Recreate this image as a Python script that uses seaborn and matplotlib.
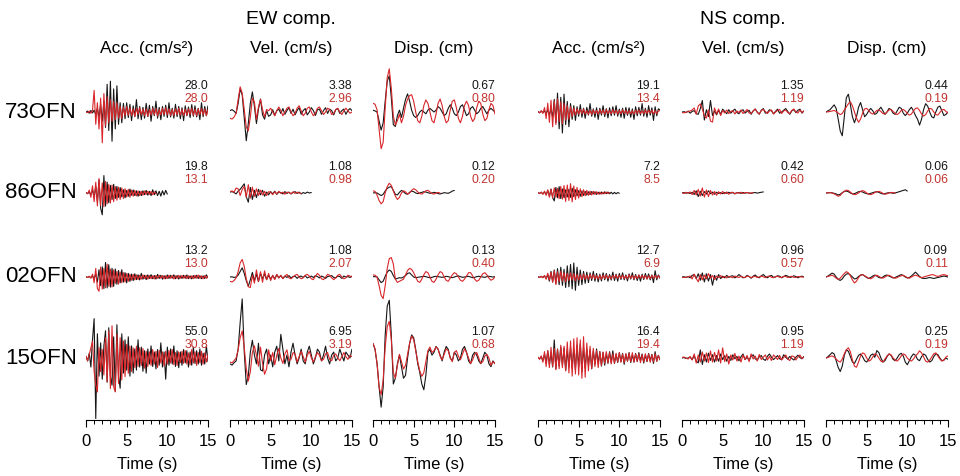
import numpy as np
import pandas as pd
import matplotlib
matplotlib.use("Agg")
import matplotlib.pyplot as plt
from matplotlib.ticker import MultipleLocator
import seaborn as sns

# ---------------------------------------------------------------- labels
STATIONS = ["73OFN", "86OFN", "02OFN", "15OFN"]
COMPONENTS = ["EW", "NS"]
COMP_TITLES = ["EW comp.", "NS comp."]
QUANTITIES = ["ACC", "VEL", "DISP"]
QUANTITY_TITLES = ["Acc. (cm/s²)", "Vel. (cm/s)", "Disp. (cm)"]
TIME_TICKS = [0, 5, 10, 15]

# ---------------------------------------------------------------- peak values (observed / simulated), per station
EW_ACC_OBS_PEAK = [28.0, 19.8, 13.2, 55.0]
EW_ACC_SIM_PEAK = [28.0, 13.1, 13.0, 30.8]
EW_VEL_OBS_PEAK = [3.38, 1.08, 1.08, 6.95]
EW_VEL_SIM_PEAK = [2.96, 0.98, 2.07, 3.19]
EW_DISP_OBS_PEAK = [0.67, 0.12, 0.13, 1.07]
EW_DISP_SIM_PEAK = [0.80, 0.20, 0.40, 0.68]
NS_ACC_OBS_PEAK = [19.1, 7.2, 12.7, 16.4]
NS_ACC_SIM_PEAK = [13.4, 8.5, 6.9, 19.4]
NS_VEL_OBS_PEAK = [1.35, 0.42, 0.96, 0.95]
NS_VEL_SIM_PEAK = [1.19, 0.60, 0.57, 1.19]
NS_DISP_OBS_PEAK = [0.44, 0.06, 0.09, 0.25]
NS_DISP_SIM_PEAK = [0.19, 0.06, 0.11, 0.19]

# ---------------------------------------------------------------- waveform shapes
# relative amplitudes (largest |value| maps to the peak above)
DT = {"ACC": 0.2, "VEL": 0.25, "DISP": 0.25}

W73_EW_ACC_OBS = [0, 3, -4, 5, -3, 6, -8, 12, -18, 25, -30, 35, -50, 90, -60, 100, -95, 75, -55, 85, -40,
                  30, -35, 28, -22, 30, -18, 25, -28, 20, -15, 40, -22, 18, -25, 15, -20, 28, -15, 22, -30,
                  18, -12, 35, -20, 15, -25, 18, -14, 22, -18, 30, -16, 12, -20, 25, -15, 18, -22, 14, -28,
                  20, -12, 16, -18, 24, -14, 20, -16, 12, -25, 30, -15, 18, -12, 20]
W73_EW_ACC_SIM = [0, -2, 3, -4, 5, 70, -40, 30, -55, 45, -100, 60, -45, 50, -35, 40, -30, 35, -25, 30, -20,
                  18, -22, 15, -12, 18, -10, 14, -12, 10, -15, 12, -8, 14, -10, 9, -12, 10, -14, 8, -10,
                  12, -9, 11, -13, 8, -10, 12, -8, 14, -9, 10, -12, 8, -11, 10, -9, 12, -10, 8, -12,
                  9, -11, 10, -8, 12, -10, 9, -12, 10, -8, 11, -9, 10, -12, 8]
W73_EW_VEL_OBS = [5, 8, 3, -5, 30, 80, 60, -20, -100, -40, 30, 70, 20, -40, 10, 45, -10, -25, 5, -15, -10,
                  8, -12, 5, 10, -5, 12, -8, 5, 15, -5, 10, -10, 5, 15, -8, 5, 12, -10, 0, 15,
                  5, -12, 8, 10, -8, 5, 15, -5, 10, 5, -10, 8, 12, -5, 5, 10, -8, 5, 12, 5]
W73_EW_VEL_SIM = [-25, -28, -20, -5, 50, 100, 75, 10, -60, -75, -20, 55, 40, -30, 20, 50, 10, -20, 10, 5, 15,
                  0, -15, 5, 20, 5, -15, 0, 15, 20, 0, -15, -5, 15, 25, 5, -15, -5, 15, 20, 0,
                  -15, -5, 15, 20, 5, -10, 0, 15, 10, -10, -5, 10, 15, 0, -10, 5, 15, 5, -5, 0]
W73_EW_DISP_OBS = [5, 3, 0, -25, -50, -30, 30, 85, 100, 40, -35, -40, -10, 5, -15, 10, 35, 50, 30, 5, -10,
                   -15, -10, 0, 5, 0, -5, 5, 10, 5, 0, 5, 15, 10, 0, -10, -5, 10, 20, 10, -5,
                   -10, 0, 15, 20, 5, -10, -5, 10, 15, 5, -5, 0, 10, 15, 5, -5, 5, 10, 5, 0]
W73_EW_DISP_SIM = [20, 18, 5, -40, -85, -70, 10, 80, 100, 55, -10, -30, -20, -5, -25, -10, 15, 30, 38, 40, 25,
                   0, -20, -25, -10, 15, 28, 20, 0, -20, -25, -5, 20, 30, 15, -10, -25, -20, 5, 25, 28,
                   10, -15, -25, -10, 15, 25, 15, -10, -22, -15, 10, 25, 20, -5, -20, -15, 5, 20, 15, -5]
W73_NS_ACC_OBS = [2, -4, 5, -3, 6, -8, 10, -12, 15, -25, 60, -50, 90, -80, 70, -100, 85, -60, 50, -70,
                  40, -35, 30, -40, 25, -20, 35, -25, 18, -30, 22, -15, 40, -20, 15, -25, 20, -35, 18, -15,
                  30, -22, 16, -28, 20, -18, 25, -15, 30, -20, 14, -25, 18, -30, 22, -16, 20, -25, 15, -35,
                  25, -18, 22, -15, 40, -20, 18, -25, 30, -15, 20, -40, 25, -18, 15, 10]
W73_NS_ACC_SIM = [3, -5, 8, -10, 30, -45, 60, -70, 80, -100, 75, -85, 90, -65, 70, -80, 60, -55, 45, -50,
                  35, -30, 25, -20, 22, -15, 18, -12, 20, -14, 10, -16, 12, -18, 15, -12, 10, -14, 16, -10,
                  12, -15, 18, -11, 9, -13, 16, -10, 12, -14, 10, -12, 15, -9, 11, -14, 10, -12, 8, -15,
                  12, -10, 14, -11, 9, -12, 15, -10, 13, -8, 12, -14, 10, -12, 9, 8]
W73_NS_VEL_OBS = [0, 3, -5, 8, -10, 5, 12, -15, -20, 30, 100, -70, 20, -40, 100, -30, 10, -25, 15, -20, 25,
                  5, -15, 20, -10, 10, 25, -5, -15, 10, 20, -10, 5, 15, -20, 10, 25, 0, -20, 15,
                  30, -10, -5, 20, 10, -15, 5, 25, -10, 0, 15, 30, 5, -20, 10, 20, -5, 15, 25, -10, 10]
W73_NS_VEL_SIM = [-5, -8, -3, 5, 10, 20, 40, -20, 60, 80, 30, -40, -60, 20, -90, -100, 40, -20, 30, -35, 15,
                  -10, 20, -15, 5, 15, -20, 10, -5, 20, -15, 5, 25, -10, -15, 10, 30, -5, -20, 15,
                  25, 5, -15, 10, 20, -20, 0, 15, 25, -15, 10, 20, -5, -15, 15, 30, 0, -10, 20, -5, 10]
W73_NS_DISP_OBS = [0, 5, 10, 20, 30, 15, -30, -80, -100, -20, 60, 75, 30, -20, -45, -20, 20, 40, 10, -20, -10,
                   5, 15, 5, -10, -5, 10, 20, 5, -10, 0, 15, 10, -5, -10, 5, 20, 15, -5, -15, -5,
                   10, 20, 5, -15, -30, -55, -30, 10, 35, 25, 0, -20, -25, 0, 20, 25, 5, -15, -10, 0]
W73_NS_DISP_SIM = [0, 2, 5, 10, 15, 5, -10, -25, -15, 20, 50, 80, 100, 60, 0, -60, -100, -70, -10, 30, 35,
                   15, -10, -20, -5, 15, 20, 5, -15, -20, 0, 20, 25, 5, -15, -25, -10, 15, 25, 10,
                   -15, -30, -20, 10, 35, 40, 15, -20, -40, -25, 10, 35, 30, 0, -25, -30, -5, 20, 25, 5, -10]

W86_EW_ACC_OBS = [2, -3, 5, -8, 15, -20, 30, -40, 60, -70, -100, 80, -60, 50, -45, 35, -30, 40, -25, 30,
                  -20, 25, -18, 15, -22, 12, -15, 18, -10, 14, -12, 10, -15, 8, -12, 10, -8, 12, -10, 8,
                  -12, 15, -8, 10, -12, 8, -14, 10, -9, 12, -5]
W86_EW_ACC_SIM = [3, -5, 20, -30, 50, -60, 75, -90, 100, -85, 70, -95, 80, -75, 60, -70, 55, -60, 45, -50,
                  40, -45, 35, -38, 30, -28, 25, -30, 20, -22, 18, -20, 15, -18, 12, -15, 14, -10, 12, -9,
                  10, -12, 8, -6]
W86_EW_VEL_OBS = [10, 15, 5, -10, 20, 40, 70, 100, -40, -100, 60, -70, 30, -50, 40, -20, 30, -35, 10, -20, 15,
                  -10, 20, -15, 10, 5, -10, 15, -5, 10, -10, 5, 15, -5, 10, -10, 5, -5, 10, 0, 5]
W86_EW_VEL_SIM = [15, 25, 10, 60, 50, -30, 40, 80, -50, 100, -60, 70, -40, 50, -30, 35, -25, 20, -30, 15, 10,
                  -20, 15, -10, 20, -5, 10, -15, 10, 5, -10, 15, -5, 10, 0, -5]
W86_EW_DISP_OBS = [0, 5, 0, -20, -40, -20, 30, 70, 90, 100, 40, -20, -30, 10, 40, 20, -10, -20, 10, 30, 20,
                   0, -10, 0, 10, 20, 15, 5, -5, 0, 10, 5, -10, -15, -5, 5, 0, -5, 10, 30, 40]
W86_EW_DISP_SIM = [20, 15, -20, -70, -100, -80, 0, 60, 90, 70, 20, -30, -60, -40, 0, 20, 10, -10, 0, 25, 40,
                   30, 10, -5, -10, 5, 20, 25, 10, -5, -10, 0, 5, 0]
W86_NS_ACC_OBS = [3, -5, 8, -10, 12, -20, 30, -40, 50, -60, -100, 70, -60, 80, -70, 50, -60, 40, -50, 45,
                  -55, 60, -45, 40, -35, 30, -40, 25, -30, 20, -25, 15, -20, 18, -12, 15, -18, 10, -14, 12,
                  -10, 15, -8, 12, -10, 9, -12, 8, -10, 6, -4]
W86_NS_ACC_SIM = [4, -6, 10, -15, 20, -25, 35, -45, 40, -50, 55, -45, 50, -60, 70, -65, 80, -90, 85, -80,
                  100, -95, 75, -70, 60, -55, 45, -40, 35, -30, 28, -25, 20, -22, 18, -15, 14, -12, 10, -12,
                  9, -8, 10, -6, 4]
W86_NS_VEL_OBS = [5, 10, -5, 10, -15, 20, -40, 60, -100, 50, -70, 40, -30, 60, -20, 25, -35, 20, -15, 10, -20,
                  15, -10, 20, -5, 10, -15, 5, 10, -10, 15, -5, 10, 0, -10, 5, 15, -5, 10, 20, 30]
W86_NS_VEL_SIM = [5, -10, 15, -5, 20, -30, 50, -40, 70, -60, 100, -80, 60, -70, 50, -40, 30, -45, 25, -20, 30,
                  -15, 20, -25, 10, 15, -20, 10, -5, 15, -10, 5, 10, -5, 0, 5]
W86_NS_DISP_OBS = [0, 5, 10, 5, -10, -30, -60, -40, 10, 50, 60, 40, 0, -30, -20, 10, 40, 50, 30, 0, -20,
                   -30, -10, 10, 30, 40, 20, -10, -30, -20, 0, 10, 5, -10, 0, 20, 40, 60, 80, 100, 60]
W86_NS_DISP_SIM = [0, 5, 10, 0, -20, -50, -80, -60, 0, 40, 70, 60, 20, -20, -40, -30, 0, 40, 60, 40, 0,
                   -30, -40, -20, 10, 30, 40, 20, -10, -30, -20, 0, 15, 10, 0]

W02_EW_ACC_OBS = [2, -3, 4, -5, 6, -10, 20, -35, 50, -60, 70, -80, 100, -75, 85, -70, 60, -65, 55, -50,
                  45, -40, 50, -35, 30, -40, 25, -30, 20, -25, 22, -18, 15, -20, 25, -15, 12, -18, 14, -10,
                  16, -12, 10, -14, 18, -10, 12, -15, 9, -12, 14, -10, 12, -8, 15, -12, 10, -14, 8, -10,
                  12, -9, 14, -11, 8, -13, 10, -8, 12, -10, 9, -12, 8, -10, 15, -6]
W02_EW_ACC_SIM = [3, -4, 5, -8, 20, -40, 60, -80, -100, 70, -85, 60, -75, 90, -65, 55, -70, 50, -45, 40,
                  -50, 35, -40, 30, -35, 25, -30, 20, -22, 18, -20, 15, -18, 12, -15, 14, -10, 12, -15, 10,
                  -12, 9, -14, 11, -10, 12, -8, 10, -13, 9, -11, 12, -9, 10, -14, 8, -10, 12, -9, 11,
                  -8, 10, -12, 9, -10, 8, -11, 12, -9, 14, -10, 8, -12, 10, -9, 7]
W02_EW_VEL_OBS = [0, 2, -5, 0, 20, 60, 100, 40, -40, -100, -30, 50, -40, 30, -50, 40, -20, 35, -30, 20, -25,
                  15, -20, 25, -10, 15, -15, 10, -5, 15, -10, 5, 10, -15, 5, 10, -5, 15, -10, 0,
                  10, -5, 15, 5, -10, 10, 0, -15, 5, 10, 15, -5, -10, 10, 5, -15, 10, 0, 5, -5, 10]
W02_EW_VEL_SIM = [-25, -28, -20, -5, 30, 80, 100, 60, -10, -55, -60, 10, -35, 40, -25, 30, -30, 35, -15, 20, -20,
                  10, -15, 15, -5, 10, -10, 5, 15, -5, -10, 0, 10, 15, 0, -10, -5, 10, 15, 5,
                  -10, -15, 5, 20, 10, -10, -15, 0, 15, 10, -5, -15, -5, 10, 15, 0, -10, -5, 10, 5, 0]
W02_EW_DISP_OBS = [5, 5, 0, -40, -80, -60, 10, 70, 100, 80, 20, -30, -20, -10, -15, 0, 20, 50, 60, 30, 0,
                   -10, -5, 0, 5, 10, 5, -5, -10, -5, 5, 10, 5, 0, -5, 0, 10, 5, -5, -10,
                   0, 10, 15, 5, -5, 0, 5, 10, 0, -10, -5, 5, 10, 5, 0, -5, 5, 10, 5, 0, 5]
W02_EW_DISP_SIM = [10, 8, 0, -40, -85, -100, -40, 40, 85, 90, 60, -10, -25, -20, -15, -10, 10, 30, 40, 35, 20,
                   0, -20, -25, -10, 10, 25, 20, 0, -20, -25, -10, 10, 25, 20, 0, -15, -20, -5, 10,
                   20, 15, 0, -15, -20, -10, 5, 20, 20, 5, -10, -20, -15, 0, 15, 20, 10, -5, -15, -10, 0]
W02_NS_ACC_OBS = [2, -3, 5, -4, 8, -10, 15, -30, 40, -35, 50, -45, 60, -55, 70, -60, 55, -75, 80, -70,
                  90, -85, 100, -95, 70, -60, 50, -55, 40, -45, 35, -40, 30, -25, 40, -30, 25, -35, 20, -28,
                  30, -20, 25, -30, 18, -22, 35, -25, 20, -30, 25, -18, 30, -20, 15, -28, 22, -15, 30, -20,
                  18, -25, 15, -30, 20, -18, 25, -15, 22, -20, 15, -40, 45, -20, 15, -10]
W02_NS_ACC_SIM = [3, -5, 8, -10, 20, -30, 50, -40, 60, -70, 80, -100, 70, -60, 75, -55, 60, -65, 50, -45,
                  55, -40, 45, -50, 35, -40, 30, -35, 40, -30, 25, -30, 35, -20, 30, -25, 20, -28, 22, -30,
                  25, -20, 30, -22, 18, -25, 20, -15, 28, -20, 22, -18, 25, -20, 15, -22, 30, -18, 20, -25,
                  18, -20, 25, -15, 22, -18, 20, -25, 15, -20, 22, -18, 20, -15, 18, -10]
W02_NS_VEL_OBS = [0, 3, -5, 5, -10, 20, 30, -20, 40, -40, 50, -60, 40, -50, 30, -100, 20, -40, 30, -20, 10,
                  -10, 20, -5, 10, 15, -10, 5, 30, 10, -10, -5, 20, 5, -15, 10, 25, 0, -10, 15,
                  30, 5, -10, 10, 20, -5, 0, 15, 10, -10, 5, 20, 10, -5, 0, 15, 5, -10, 5, 10, 0]
W02_NS_VEL_SIM = [-5, -10, -5, 5, 20, -40, 60, -30, -100, 50, -60, 40, -40, 70, -20, 30, -50, 20, -10, 30, -15,
                  10, -20, 15, 0, -15, 20, 5, -10, 15, -5, -10, 20, 10, -15, 5, 15, -10, 0, 20,
                  5, -15, 10, 20, -5, -15, 10, 15, -5, -10, 15, 10, -10, 5, 15, -5, -10, 10, 5, 0, 0]
W02_NS_DISP_OBS = [0, 20, 50, 80, 60, 0, -50, -70, -40, 20, 60, 70, 40, 0, -40, -30, 10, 40, 50, 20, -10,
                   -30, -10, 20, 40, 20, -10, -20, 0, 30, 40, 20, 0, -20, -10, 10, 30, 50, 30, 0,
                   -20, -10, 20, 60, 100, 60, 10, -20, -30, -30, -20, -10, -20, -30, -20, -10, 0, 10, 20, 10, 0]
W02_NS_DISP_SIM = [0, 10, 20, 30, 10, -20, -40, -20, 20, 60, 90, 70, 20, -50, -100, -70, -10, 30, 40, 20, 0,
                   -20, -30, -10, 20, 30, 10, -10, -20, 0, 20, 30, 10, -10, -20, -10, 10, 20, 30, 10,
                   -10, -20, 0, 20, 30, 20, 0, -10, 0, 10, 20, 30, 40, 35, 20, 10, 20, 35, 40, 30, 20]

W15_EW_ACC_OBS = [3, -5, 8, -15, 30, 65, -100, 40, -30, 25, -35, 20, 45, -40, 50, -30, -45, 35, -55, 55,
                  -30, -50, 40, -25, 30, -20, 35, -30, 20, -25, 15, -20, 30, -15, 18, -22, 12, -25, 15, -10,
                  20, -14, 10, -18, 14, -12, 25, -15, 10, -35, 18, -12, 15, -10, 20, -14, 12, -16, 10, -12,
                  14, -8, 12, -15, 10, -12, 18, -9, 12, -10, 15, -12, 8, -10, 20, -6]
W15_EW_ACC_SIM = [5, -8, 10, 30, 50, -40, -80, -100, 30, -40, 25, -50, 60, -70, 80, -90, 95, -85, -100, 70,
                  -75, 60, -65, 50, -55, 40, -45, 35, -40, 30, -28, 35, -25, 30, -22, 28, -30, 20, -25, 18,
                  -22, 25, -18, 20, -28, 22, -15, 18, -24, 20, -18, 22, -15, 25, -20, 16, -22, 18, -14, 20,
                  -16, 22, -18, 15, -20, 25, -15, 18, -22, 16, -14, 20, -18, 15, -12, 10]
W15_EW_VEL_OBS = [-10, -12, -8, -5, 15, 60, 100, 10, -45, -30, 10, 30, 5, -10, 25, -20, -22, 5, 15, -10, 5,
                  -15, 10, 20, -5, 40, 15, -10, 5, -15, 10, 25, 5, -10, 0, 15, -5, -10, 10, 20,
                  5, -10, 0, 15, 10, -5, 5, 20, 0, -10, 5, 10, -5, 0, 15, 5, -5, 10, 5, 0, 15]
W15_EW_VEL_SIM = [-15, -18, -10, 0, 30, 75, 100, 40, -40, -85, -50, 20, 45, 10, -30, 40, -20, -60, -40, 30, -10,
                  20, -25, 10, 35, 0, -20, 15, 30, -10, -5, 20, 15, -15, 5, 25, 5, -15, 10, 25,
                  0, -15, 5, 20, 10, -10, -5, 15, 20, -5, -10, 10, 15, 0, -10, 5, 20, 5, -5, 10, 5]
W15_EW_DISP_OBS = [25, 15, -10, -50, -85, -50, 40, 90, 100, 40, -45, -35, -10, 5, -15, -35, -30, 0, 25, 40, 35,
                   15, -10, -25, -45, -55, -30, 10, 15, 5, 10, 20, 15, 5, -5, 10, 20, 15, 0, -5,
                   10, 5, -5, 0, 15, 20, 10, -5, -10, 5, 10, 5, -5, -10, 0, 10, 5, -10, -15, -5, -10]
W15_EW_DISP_SIM = [40, 25, -15, -80, -100, -60, 30, 85, 100, 50, -40, -55, -20, 10, -10, -30, -20, 10, 40, 60, 50,
                   20, -10, -35, -50, -40, -10, 20, 30, 15, 20, 30, 25, 5, -5, 10, 25, 20, 0, -10,
                   15, 20, 5, -5, 10, 25, 15, 0, -15, -5, 10, 15, 0, -15, -10, 5, 10, 0, -20, -10, -15]
W15_NS_ACC_OBS = [3, -5, 8, -15, 20, -30, 40, -35, 30, -50, 100, -60, 50, -45, 60, -40, 55, -70, 45, -50,
                  60, -55, 50, -65, 70, -50, 80, -75, 60, -55, 50, -40, 45, -60, 40, -35, 50, -30, 35, -45,
                  30, -40, 25, -30, 35, -25, 40, -30, 20, -25, 30, -20, 25, -35, 22, -18, 30, -25, 18, -22,
                  25, -20, 30, -15, 22, -28, 18, -20, 25, -15, 20, -30, 35, -18, 15, -10]
W15_NS_ACC_SIM = [4, -6, 10, -20, 30, -40, 35, -45, 50, -40, 45, -55, 40, -50, 60, -45, 55, -60, 75, -70,
                  80, -85, 90, -75, 95, -80, 85, -95, 100, -90, 70, -60, 55, -50, 45, -40, 35, -45, 30, -35,
                  28, -25, 30, -22, 25, -28, 20, -25, 22, -18, 25, -20, 18, -22, 20, -15, 22, -18, 25, -20,
                  18, -15, 20, -22, 15, -18, 20, -16, 18, -20, 15, -18, 20, -15, 12, -8]
W15_NS_VEL_OBS = [0, 5, -5, 0, 10, -20, 30, -40, -60, 100, -80, 40, -50, 60, -30, 40, -50, 30, -40, 50, -20,
                  30, -40, 20, -30, 40, -10, 20, -35, 15, 50, -20, 10, -30, 20, 40, -10, -25, 15, 30,
                  -15, -30, 20, 50, 10, -20, 5, 30, -10, -20, 40, 10, -15, 20, -5, -25, 10, 35, 5, -10, 20]
W15_NS_VEL_SIM = [5, 10, 0, -10, 15, -20, 40, -50, 30, -40, 60, -30, 50, -45, 70, -40, 55, -30, 80, -50, 100,
                  -35, 40, -60, 30, -20, 45, -30, 20, -40, 30, -15, 25, -35, 40, -10, 20, -30, 35, -15,
                  10, 30, -20, 15, -25, 30, 10, -15, 25, -20, 5, 30, -10, -25, 20, 15, -20, 10, 30, -5, 10]
W15_NS_DISP_OBS = [0, 10, 25, 40, 30, -20, -70, -100, -60, 20, 60, 50, 10, -30, -40, -10, 20, 30, 10, -20, -30,
                   -10, 20, 30, 5, 55, 40, 0, -30, -20, 10, 30, 20, -10, -20, 0, 25, 35, 15, -30,
                   -50, -20, 10, 30, 20, -10, -20, 10, 30, 20, -10, -30, -20, 10, 30, 25, 0, -20, -15, 0, -10]
W15_NS_DISP_SIM = [0, 5, 15, 20, 10, -10, -30, -40, -10, 40, 80, 100, 60, -20, -80, -90, -40, 20, 50, 40, 0,
                   -30, -20, 10, 40, 30, 0, -30, -40, -10, 20, 40, 30, 0, -20, -30, -10, 20, 40, 30,
                   0, -20, -30, -10, 20, 40, 70, 50, 10, -30, -40, -20, 10, 40, 50, 20, -10, -30, -20, 10, 20]

# ---------------------------------------------------------------- layout (pixels of a 960 x 476 canvas)
W, H = 960, 476
COL_X0 = [86, 230, 373, 538, 682, 826]
COL_SPAN = 122
ROW_BASE = [112, 193, 277, 358]
AXIS_Y = 420
GAIN = {"ACC": 1.1, "VEL": 8.5, "DISP": 54.0}   # pixels per physical unit
OBS_COLOR = "#161616"
SIM_COLOR = "#d8262a"
SIM_TEXT = "#c23530"

sns.set_style("white")
plt.rcParams["font.family"] = ["Liberation Sans", "DejaVu Sans"]
plt.rcParams["text.color"] = "black"
plt.rcParams["axes.labelcolor"] = "black"
plt.rcParams["xtick.color"] = "black"

fig = plt.figure(figsize=(W / 100, H / 100), dpi=100)


def peaks(comp, qty):
    return globals()[f"{comp}_{qty}_OBS_PEAK"], globals()[f"{comp}_{qty}_SIM_PEAK"]


for ci, comp in enumerate(COMPONENTS):
    for qi, qty in enumerate(QUANTITIES):
        col = ci * 3 + qi
        gain = GAIN[qty]
        ax = fig.add_axes([COL_X0[col] / W, 0, COL_SPAN / W, 1])
        ax.set_facecolor("none")
        ax.set_xlim(0, 15)
        ax.set_ylim(0, H / gain)

        obs_pk, sim_pk = peaks(comp, qty)
        rows = []
        for si, st in enumerate(STATIONS):
            offset = (H - ROW_BASE[si]) / gain
            for src, pk in (("obs", obs_pk[si]), ("sim", sim_pk[si])):
                shape = np.asarray(globals()[f"W{st[:2]}_{comp}_{qty}_{src.upper()}"], float)
                vals = shape / np.abs(shape).max() * pk
                t = np.arange(len(vals)) * DT[qty]
                rows.append(pd.DataFrame({"t": t, "y": vals + offset, "src": src,
                                          "trace": f"{st}-{src}"}))
            fmt = "{:.1f}" if qty == "ACC" else "{:.2f}"
            ax.text(15, (H - ROW_BASE[si] + 26) / gain, fmt.format(obs_pk[si]),
                    ha="right", va="center", fontsize=8.8, color=OBS_COLOR)
            ax.text(15, (H - ROW_BASE[si] + 13) / gain, fmt.format(sim_pk[si]),
                    ha="right", va="center", fontsize=8.8, color=SIM_TEXT)
        df = pd.concat(rows, ignore_index=True)

        sns.lineplot(data=df, x="t", y="y", hue="src", hue_order=["obs", "sim"],
                     palette={"obs": OBS_COLOR, "sim": SIM_COLOR}, units="trace",
                     estimator=None, sort=False, linewidth=0.8, legend=False, ax=ax)

        for side in ("left", "right", "top"):
            ax.spines[side].set_visible(False)
        ax.spines["bottom"].set_position(("data", (H - AXIS_Y) / gain))
        ax.spines["bottom"].set_bounds(0, 15)
        ax.spines["bottom"].set_linewidth(0.8)
        ax.spines["bottom"].set_color("black")
        ax.set_yticks([])
        ax.set_ylabel("")
        ax.set_xticks(TIME_TICKS)
        ax.xaxis.set_minor_locator(MultipleLocator(1))
        ax.tick_params(axis="x", which="major", direction="out", length=5, width=0.8,
                       labelsize=12, pad=5, color="black", bottom=True)
        ax.tick_params(axis="x", which="minor", direction="out", length=3, width=0.7,
                       color="black", bottom=True)
        ax.set_xlabel("Time (s)", fontsize=12)
        ax.xaxis.set_label_coords(0.5, (H - 457) / H)

        fig.text((COL_X0[col] + COL_SPAN / 2) / W, 1 - 48 / H, QUANTITY_TITLES[qi],
                 ha="center", va="center", fontsize=12.5)

for ci, title in enumerate(COMP_TITLES):
    cx = (COL_X0[ci * 3] + COL_X0[ci * 3 + 2] + COL_SPAN) / 2
    fig.text(cx / W, 1 - 20 / H, title, ha="center", va="center", fontsize=14)

for si, st in enumerate(STATIONS):
    fig.text(5 / W, 1 - ROW_BASE[si] / H, st, ha="left", va="center", fontsize=16)

fig.savefig("out.png", dpi=100)
